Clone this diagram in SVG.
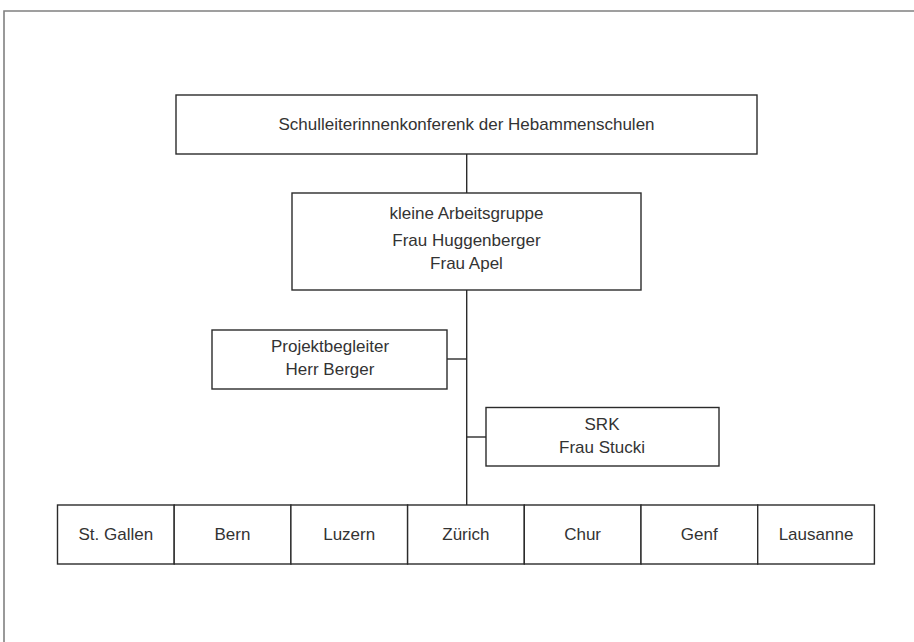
<svg xmlns="http://www.w3.org/2000/svg" width="914" height="642" viewBox="0 0 914 642">
<style>
.box{fill:#fff;stroke:#2b2b2b;stroke-width:1.4}
.ln{fill:none;stroke:#2b2b2b;stroke-width:1.4}
.frame{fill:none;stroke:#808080;stroke-width:1.6}
text{font-family:"Liberation Sans",Arial,sans-serif;font-size:17px;fill:#333;text-anchor:middle}
</style>
<rect width="914" height="642" fill="#fff"/>
<path class="frame" d="M4,650 V11 H920"/>
<g id="connectors">
<path class="ln" d="M466.7,154 V193"/>
<path class="ln" d="M466.7,290 V505"/>
<path class="ln" d="M447,359 H466.7"/>
<path class="ln" d="M466.7,437 H486"/>
</g>
<g id="konferenz">
<rect class="box" x="176" y="95" width="581" height="59"/>
<text x="466.5" y="130">Schulleiterinnenkonferenk der Hebammenschulen</text>
</g>
<g id="arbeitsgruppe">
<rect class="box" x="292" y="193" width="349" height="97"/>
<text x="466.5" y="219">kleine Arbeitsgruppe</text>
<text x="466.5" y="246">Frau Huggenberger</text>
<text x="466.5" y="269">Frau Apel</text>
</g>
<g id="projektbegleiter">
<rect class="box" x="212" y="330" width="235" height="59"/>
<text x="330" y="352">Projektbegleiter</text>
<text x="330" y="375">Herr Berger</text>
</g>
<g id="srk">
<rect class="box" x="486" y="407.5" width="233" height="58.5"/>
<text x="602" y="430">SRK</text>
<text x="602" y="453">Frau Stucki</text>
</g>
<g id="st-gallen"><rect class="box" x="57.5" y="505" width="116.7" height="59"/><text x="115.8" y="540">St. Gallen</text></g>
<g id="bern"><rect class="box" x="174.2" y="505" width="116.7" height="59"/><text x="232.5" y="540">Bern</text></g>
<g id="luzern"><rect class="box" x="290.9" y="505" width="116.7" height="59"/><text x="349.2" y="540">Luzern</text></g>
<g id="zuerich"><rect class="box" x="407.6" y="505" width="116.7" height="59"/><text x="465.9" y="540">Zürich</text></g>
<g id="chur"><rect class="box" x="524.3" y="505" width="116.7" height="59"/><text x="582.6" y="540">Chur</text></g>
<g id="genf"><rect class="box" x="641" y="505" width="116.7" height="59"/><text x="699.3" y="540">Genf</text></g>
<g id="lausanne"><rect class="box" x="757.7" y="505" width="116.7" height="59"/><text x="816" y="540">Lausanne</text></g>
</svg>
